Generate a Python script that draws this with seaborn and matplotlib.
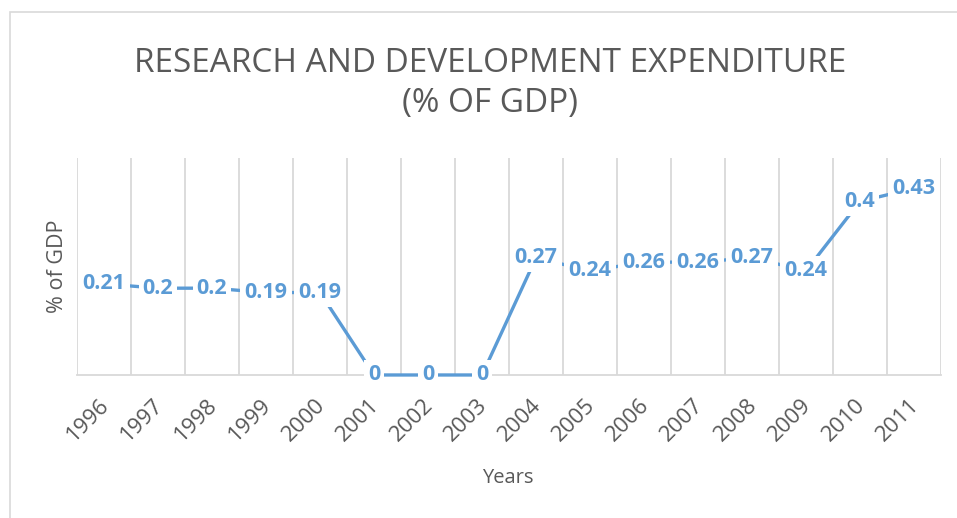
import matplotlib
matplotlib.use('Agg')
import matplotlib.pyplot as plt
import matplotlib.patches as patches
import matplotlib.transforms as mtransforms
import pandas as pd
import seaborn as sns

years = ['1996', '1997', '1998', '1999', '2000', '2001', '2002', '2003',
         '2004', '2005', '2006', '2007', '2008', '2009', '2010', '2011']
values = [0.21, 0.2, 0.2, 0.19, 0.19, 0, 0, 0,
          0.27, 0.24, 0.26, 0.26, 0.27, 0.24, 0.4, 0.43]

sns.set_style('white')
plt.rcParams['font.family'] = ['Open Sans', 'DejaVu Sans']

df = pd.DataFrame({'Years': years, 'GDP': values})
blue = '#5B9BD5'
grey = '#595959'

fig = plt.figure(figsize=(9.57, 5.18), dpi=100)
ax = fig.add_axes([0.0805, 0.2761, 0.9028, 0.4189])

sns.lineplot(data=df, x='Years', y='GDP', ax=ax, color=blue, linewidth=2.4, sort=False)
for ln in ax.lines:
    ln.set_zorder(4)
    ln.set_clip_on(False)

# data labels sit on the points with a white box, like Excel
for i, v in enumerate(values):
    ax.text(i, v, f'{v:g}', ha='center', va='center', color=blue,
            fontsize=15.5, fontweight='bold', zorder=5, clip_on=False,
            bbox=dict(facecolor='white', edgecolor='none', pad=3))

ax.set_xlim(-0.5, len(years) - 0.5)
ax.set_ylim(0, 0.5)
ax.set_yticks([])
ax.set_xticks(range(len(years)))
ax.set_xticklabels(years, rotation=45, ha='right', rotation_mode='anchor',
                   fontsize=16, color=grey, va='top')
ax.tick_params(axis='x', length=0, pad=14)
shift = mtransforms.ScaledTranslation(-5 / 100, 0, fig.dpi_scale_trans)
for lab in ax.get_xticklabels():
    lab.set_transform(lab.get_transform() + shift)
ax.set_xticks([i - 0.5 for i in range(len(years) + 1)], minor=True)
ax.grid(False)
ax.grid(True, which='minor', axis='x', color='#D9D9D9', linewidth=1.3)
ax.tick_params(axis='x', which='minor', length=0)

for s in ['top', 'right', 'left']:
    ax.spines[s].set_visible(False)
ax.spines['bottom'].set_color('#D9D9D9')
ax.spines['bottom'].set_linewidth(1.3)

ax.set_xlabel('Years', fontsize=14.5, color=grey)
ax.xaxis.set_label_coords(0.499, -0.43)
ax.set_ylabel('% of GDP', fontsize=15.5, color=grey)
ax.yaxis.set_label_coords(-0.0104, 0.5)

fig.text(0.512, 0.878, 'RESEARCH AND DEVELOPMENT EXPENDITURE', ha='center', va='center',
         fontsize=24, color=grey)
fig.text(0.512, 0.801, '(% OF GDP)', ha='center', va='center', fontsize=24, color=grey)

border = patches.Rectangle((10 / 957, -0.05), 1.2, 1 - 12 / 518 + 0.05,
                           transform=fig.transFigure, fill=False,
                           edgecolor='#D9D9D9', linewidth=1.2)
fig.patches.append(border)

fig.savefig('out.png', dpi=100)
